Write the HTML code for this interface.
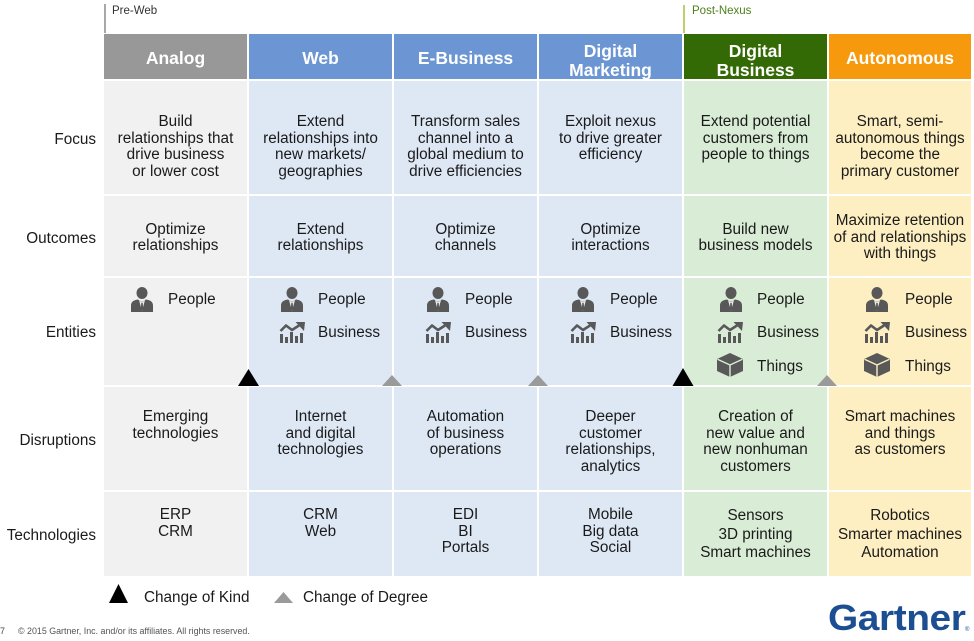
<!DOCTYPE html>
<html>
<head>
<meta charset="utf-8">
<style>
html,body{margin:0;padding:0;background:#fff;}
#w{position:relative;width:974px;height:641px;overflow:hidden;background:#fff;font-family:"Liberation Sans",Arial,sans-serif;}
.bx{position:absolute;}
.h{position:absolute;top:34px;height:45px;color:#fff;font-weight:bold;font-size:17.5px;line-height:19px;text-align:center;}
.h span{position:absolute;left:0;right:0;}
.t{position:absolute;text-align:center;font-size:15.3px;line-height:16.5px;color:#1a1a1a;white-space:nowrap;}
.o{position:absolute;top:198px;height:80px;display:flex;align-items:center;justify-content:center;text-align:center;font-size:15.3px;line-height:16.5px;color:#1a1a1a;white-space:nowrap;}
.lab{position:absolute;left:0;width:96px;text-align:right;font-size:15.3px;line-height:16.5px;color:#1a1a1a;}
.e{position:absolute;font-size:15.3px;line-height:16.5px;color:#1a1a1a;white-space:nowrap;}
</style>
</head>
<body>
<div id="w">

<!-- era markers -->
<div class="bx" style="left:104px;top:4px;width:1.5px;height:29px;background:#a8a8a8;"></div>
<div class="bx" style="left:112px;top:4px;font-size:11.5px;line-height:14px;color:#333;">Pre-Web</div>
<div class="bx" style="left:683px;top:5px;width:2px;height:28px;background:#c3cf6e;"></div>
<div class="bx" style="left:692px;top:4px;font-size:11.5px;line-height:14px;color:#4e7f1a;">Post-Nexus</div>

<!-- headers -->
<div class="h" style="left:104px;width:143px;background:#989898;"><span style="top:14.5px;">Analog</span></div>
<div class="h" style="left:249px;width:143px;background:#6b96d3;"><span style="top:14.5px;">Web</span></div>
<div class="h" style="left:394px;width:143px;background:#6b96d3;"><span style="top:14.5px;">E-Business</span></div>
<div class="h" style="left:539px;width:143px;background:#6b96d3;"><span style="top:7.5px;">Digital<br>Marketing</span></div>
<div class="h" style="left:684px;width:143px;background:#346a05;"><span style="top:7.5px;">Digital<br>Business</span></div>
<div class="h" style="left:829px;width:142px;background:#f7990c;"><span style="top:14.5px;">Autonomous</span></div>

<!-- body columns backgrounds -->
<div class="bx" style="left:104px;top:81px;width:143px;height:113px;background:#f1f1f1;"></div>
<div class="bx" style="left:104px;top:196px;width:143px;height:80px;background:#f1f1f1;"></div>
<div class="bx" style="left:104px;top:278px;width:143px;height:107px;background:#f1f1f1;"></div>
<div class="bx" style="left:104px;top:387px;width:143px;height:103px;background:#f1f1f1;"></div>
<div class="bx" style="left:104px;top:492px;width:143px;height:84px;background:#f1f1f1;"></div>

<div class="bx" style="left:249px;top:81px;width:143px;height:113px;background:#dee8f5;"></div>
<div class="bx" style="left:249px;top:196px;width:143px;height:80px;background:#dee8f5;"></div>
<div class="bx" style="left:249px;top:278px;width:143px;height:107px;background:#dee8f5;"></div>
<div class="bx" style="left:249px;top:387px;width:143px;height:103px;background:#dee8f5;"></div>
<div class="bx" style="left:249px;top:492px;width:143px;height:84px;background:#dee8f5;"></div>

<div class="bx" style="left:394px;top:81px;width:143px;height:113px;background:#dee8f5;"></div>
<div class="bx" style="left:394px;top:196px;width:143px;height:80px;background:#dee8f5;"></div>
<div class="bx" style="left:394px;top:278px;width:143px;height:107px;background:#dee8f5;"></div>
<div class="bx" style="left:394px;top:387px;width:143px;height:103px;background:#dee8f5;"></div>
<div class="bx" style="left:394px;top:492px;width:143px;height:84px;background:#dee8f5;"></div>

<div class="bx" style="left:539px;top:81px;width:143px;height:113px;background:#dee8f5;"></div>
<div class="bx" style="left:539px;top:196px;width:143px;height:80px;background:#dee8f5;"></div>
<div class="bx" style="left:539px;top:278px;width:143px;height:107px;background:#dee8f5;"></div>
<div class="bx" style="left:539px;top:387px;width:143px;height:103px;background:#dee8f5;"></div>
<div class="bx" style="left:539px;top:492px;width:143px;height:84px;background:#dee8f5;"></div>

<div class="bx" style="left:684px;top:81px;width:143px;height:113px;background:#d9edd6;"></div>
<div class="bx" style="left:684px;top:196px;width:143px;height:80px;background:#d9edd6;"></div>
<div class="bx" style="left:684px;top:278px;width:143px;height:107px;background:#d9edd6;"></div>
<div class="bx" style="left:684px;top:387px;width:143px;height:103px;background:#d9edd6;"></div>
<div class="bx" style="left:684px;top:492px;width:143px;height:84px;background:#d9edd6;"></div>

<div class="bx" style="left:829px;top:81px;width:142px;height:113px;background:#fdefc1;"></div>
<div class="bx" style="left:829px;top:196px;width:142px;height:80px;background:#fdefc1;"></div>
<div class="bx" style="left:829px;top:278px;width:142px;height:107px;background:#fdefc1;"></div>
<div class="bx" style="left:829px;top:387px;width:142px;height:103px;background:#fdefc1;"></div>
<div class="bx" style="left:829px;top:492px;width:142px;height:84px;background:#fdefc1;"></div>

<!-- row labels -->
<div class="lab" style="top:131.5px;">Focus</div>
<div class="lab" style="top:231px;">Outcomes</div>
<div class="lab" style="top:325px;">Entities</div>
<div class="lab" style="top:432.5px;">Disruptions</div>
<div class="lab" style="top:528px;">Technologies</div>

<!-- Focus -->
<div class="t" style="left:104px;width:143px;top:114.2px;">Build<br>relationships that<br>drive business<br>or lower cost</div>
<div class="t" style="left:249px;width:143px;top:114.2px;">Extend<br>relationships into<br>new markets/<br>geographies</div>
<div class="t" style="left:394px;width:143px;top:114.2px;">Transform sales<br>channel into a<br>global medium to<br>drive efficiencies</div>
<div class="t" style="left:539px;width:143px;top:114.2px;">Exploit nexus<br>to drive greater<br>efficiency</div>
<div class="t" style="left:684px;width:143px;top:114.2px;">Extend potential<br>customers from<br>people to things</div>
<div class="t" style="left:829px;width:142px;top:114.2px;">Smart, semi-<br>autonomous things<br>become the<br>primary customer</div>

<!-- Outcomes -->
<div class="o" style="left:104px;width:143px;"><div>Optimize<br>relationships</div></div>
<div class="o" style="left:249px;width:143px;"><div>Extend<br>relationships</div></div>
<div class="o" style="left:394px;width:143px;"><div>Optimize<br>channels</div></div>
<div class="o" style="left:539px;width:143px;"><div>Optimize<br>interactions</div></div>
<div class="o" style="left:684px;width:143px;"><div>Build new<br>business models</div></div>
<div class="o" style="left:829px;width:142px;"><div>Maximize retention<br>of and relationships<br>with things</div></div>

<!-- Entities text -->
<div class="e" style="left:168px;top:291.5px;">People</div>

<div class="e" style="left:318px;top:291.5px;">People</div>
<div class="e" style="left:318px;top:324.8px;">Business</div>

<div class="e" style="left:465px;top:291.5px;">People</div>
<div class="e" style="left:465px;top:324.8px;">Business</div>

<div class="e" style="left:610px;top:291.5px;">People</div>
<div class="e" style="left:610px;top:324.8px;">Business</div>

<div class="e" style="left:757px;top:291.5px;">People</div>
<div class="e" style="left:757px;top:324.8px;">Business</div>
<div class="e" style="left:757px;top:358.5px;">Things</div>

<div class="e" style="left:905px;top:291.5px;">People</div>
<div class="e" style="left:905px;top:324.8px;">Business</div>
<div class="e" style="left:905px;top:358.5px;">Things</div>

<!-- Disruptions -->
<div class="t" style="left:104px;width:143px;top:409.4px;">Emerging<br>technologies</div>
<div class="t" style="left:249px;width:143px;top:409.4px;">Internet<br>and digital<br>technologies</div>
<div class="t" style="left:394px;width:143px;top:409.4px;">Automation<br>of business<br>operations</div>
<div class="t" style="left:539px;width:143px;top:409.4px;">Deeper<br>customer<br>relationships,<br>analytics</div>
<div class="t" style="left:684px;width:143px;top:409.4px;">Creation of<br>new value and<br>new nonhuman<br>customers</div>
<div class="t" style="left:829px;width:142px;top:409.4px;">Smart machines<br>and things<br>as customers</div>

<!-- Technologies -->
<div class="t" style="left:104px;width:143px;top:507px;">ERP<br>CRM</div>
<div class="t" style="left:249px;width:143px;top:507px;">CRM<br>Web</div>
<div class="t" style="left:394px;width:143px;top:507px;">EDI<br>BI<br>Portals</div>
<div class="t" style="left:539px;width:143px;top:507px;">Mobile<br>Big data<br>Social</div>
<div class="t" style="left:684px;width:143px;top:507.4px;line-height:18.5px;">Sensors<br>3D printing<br>Smart machines</div>
<div class="t" style="left:829px;width:142px;top:507.4px;line-height:18.5px;">Robotics<br>Smarter machines<br>Automation</div>

<!-- icons and triangles -->
<svg class="bx" style="left:0;top:0;" width="974" height="641" viewBox="0 0 974 641">
  <defs>
    <g id="person">
      <ellipse cx="11" cy="6" rx="5.5" ry="6" fill="#585858"/>
      <path d="M0 25 V18.5 C0 14.5 3 13 7 12.5 L11 15 L15 12.5 C19 13 22 14.5 22 18.5 V25 Z" fill="#585858"/>
      <path d="M8 13 L11 24 L14 13 L11 15.5 Z" fill="#eeeeee"/>
      <path d="M10.3 16 L11.7 16 L12.2 22 L11 23.4 L9.8 22 Z" fill="#585858"/>
    </g>
    <g id="biz" fill="#585858">
      <rect x="0" y="12" width="3" height="9"/>
      <rect x="5" y="15" width="3" height="6"/>
      <rect x="10" y="10" width="3" height="11"/>
      <rect x="15" y="14" width="3" height="7"/>
      <rect x="20" y="11" width="3" height="10"/>
      <polyline points="0.5,9 6,3.5 12,8 19,3.5" fill="none" stroke="#585858" stroke-width="2.6" stroke-linejoin="round"/>
      <polygon points="15.5,0 25,0 24,9"/>
    </g>
  </defs>

  <!-- persons -->
  <use href="#person" x="131" y="287"/>
  <use href="#person" x="281" y="287"/>
  <use href="#person" x="427" y="287"/>
  <use href="#person" x="572" y="287"/>
  <use href="#person" x="720" y="287"/>
  <use href="#person" x="866" y="287"/>

  <!-- business -->
  <use href="#biz" x="280" y="322"/>
  <use href="#biz" x="426" y="322"/>
  <use href="#biz" x="571" y="322"/>
  <use href="#biz" x="718" y="322"/>
  <use href="#biz" x="865" y="322"/>

  <!-- cubes -->
  <g transform="translate(717,353)">
    <polygon points="13,0 26,6 26,18 13,24 0,18 0,6" fill="#585858"/>
    <polyline points="0.5,6.2 13,12 25.5,6.2" fill="none" stroke="#d9edd6" stroke-width="1.4"/>
    <line x1="13" y1="12" x2="13" y2="24" stroke="#d9edd6" stroke-width="1.4"/>
  </g>
  <g transform="translate(864,353)">
    <polygon points="13,0 26,6 26,18 13,24 0,18 0,6" fill="#585858"/>
    <polyline points="0.5,6.2 13,12 25.5,6.2" fill="none" stroke="#fdefc1" stroke-width="1.4"/>
    <line x1="13" y1="12" x2="13" y2="24" stroke="#fdefc1" stroke-width="1.4"/>
  </g>

  <!-- change triangles -->
  <polygon points="238,386 259,386 248.5,369" fill="#000"/>
  <polygon points="672.5,386 693.5,386 683,368" fill="#000"/>
  <polygon points="382,386 402,386 392,375" fill="#9a9a9a"/>
  <polygon points="528,386 548,386 538,375" fill="#9a9a9a"/>
  <polygon points="817,386 837,386 827,375" fill="#9a9a9a"/>

  <!-- legend triangles -->
  <polygon points="109,603 128,603 118.5,584" fill="#000"/>
  <polygon points="274,603 293,603 283.5,592" fill="#9a9a9a"/>
</svg>

<!-- legend text -->
<div class="e" style="left:144px;top:589.5px;">Change of Kind</div>
<div class="e" style="left:303px;top:589.5px;">Change of Degree</div>

<!-- footer -->
<div class="bx" style="left:0px;top:626px;font-size:8.9px;line-height:10px;color:#444;">7</div>
<div class="bx" style="left:18px;top:626px;font-size:8.9px;line-height:10px;color:#555;white-space:nowrap;">© 2015 Gartner, Inc. and/or its affiliates. All rights reserved.</div>

<!-- logo -->
<div class="bx" style="left:828px;top:598px;font-size:36px;line-height:39px;font-weight:bold;color:#1c4f92;transform:scaleX(1.08);transform-origin:0 0;white-space:nowrap;letter-spacing:-0.4px;">Gartner</div>
<div class="bx" style="left:965px;top:627px;font-size:6px;line-height:7px;color:#1c4f92;">®</div>

</div>
</body>
</html>
